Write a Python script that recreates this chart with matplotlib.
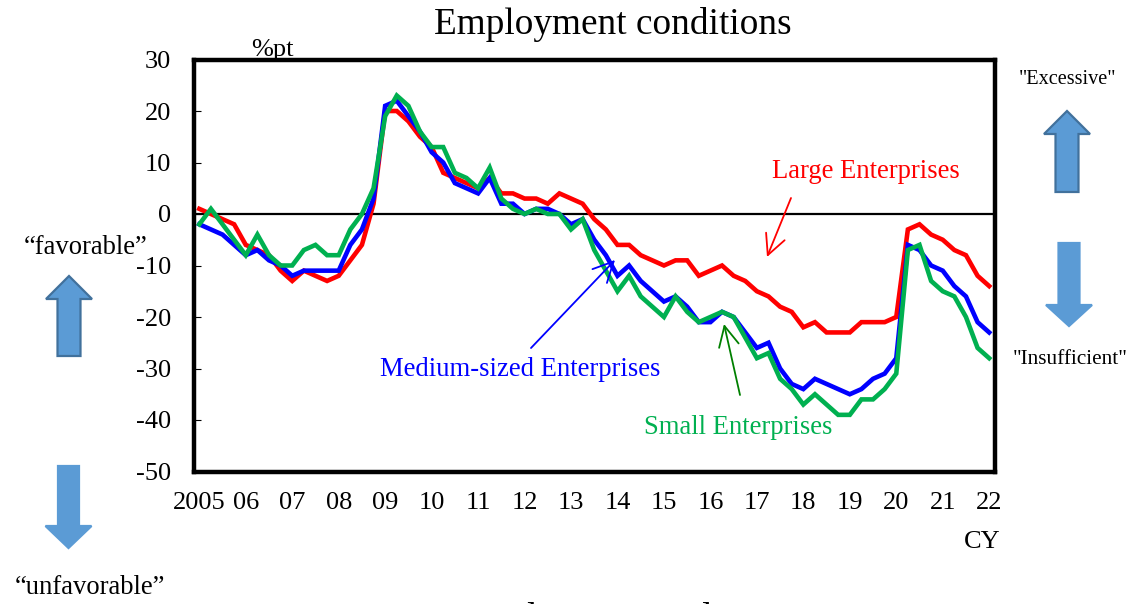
import matplotlib
matplotlib.use('Agg')
import matplotlib.pyplot as plt
from matplotlib.patches import Polygon

plt.rcParams['font.family'] = ['Liberation Serif', 'DejaVu Serif']
plt.rcParams['axes.unicode_minus'] = False

W = 1146
H = 604

# quarterly, 2005 Q1 - 2022 Q1
large = [1, 0, -1, -2, -6, -7, -8, -11, -13, -11, -12, -13, -12, -9, -6, 2, 20, 20, 18, 15, 13, 8, 7, 6, 5,
         7, 4, 4, 3, 3, 2, 4, 3, 2, -1, -3, -6, -6, -8, -9, -10, -9, -9, -12, -11, -10, -12, -13, -15, -16,
         -18, -19, -22, -21, -23, -23, -23, -21, -21, -21, -20, -3, -2, -4, -5, -7, -8, -12, -14]
medium = [-2, -3, -4, -6, -8, -7, -9, -10, -12, -11, -11, -11, -11, -6, -3, 3, 21, 22, 19, 16, 12, 10, 6, 5, 4,
          7, 2, 2, 0, 1, 1, 0, -2, -1, -5, -8, -12, -10, -13, -15, -17, -16, -18, -21, -21, -19, -20, -23, -26, -25,
          -30, -33, -34, -32, -33, -34, -35, -34, -32, -31, -28, -6, -7, -10, -11, -14, -16, -21, -23]
small = [-2, 1, -2, -5, -8, -4, -8, -10, -10, -7, -6, -8, -8, -3, 0, 5, 19, 23, 21, 16, 13, 13, 8, 7, 5,
         9, 3, 1, 0, 1, 0, 0, -3, -1, -7, -11, -15, -12, -16, -18, -20, -16, -19, -21, -20, -19, -20, -24, -28, -27,
         -32, -34, -37, -35, -37, -39, -39, -36, -36, -34, -31, -7, -6, -13, -15, -16, -20, -26, -28]

year_labels = ['2005', '06', '07', '08', '09', '10', '11', '12', '13', '14', '15', '16', '17', '18', '19', '20',
               '21', '22']
y_ticks = [30, 20, 10, 0, -10, -20, -30, -40, -50]

RED = '#FF0000'
BLUE = '#0000FF'
GREEN = '#00B050'

fig = plt.figure(figsize=(W / 100, H / 100), dpi=100)
ax = fig.add_axes([193.5 / W, 1 - 471.5 / H, 801.5 / W, 412 / H])

x = list(range(len(large)))
ax.axhline(0, color='k', lw=1.6, zorder=1)
ax.plot(x, large, color=RED, lw=3.3, solid_joinstyle='miter', zorder=2)
ax.plot(x, medium, color=BLUE, lw=3.3, solid_joinstyle='miter', zorder=3)
ax.plot(x, small, color=GREEN, lw=3.3, solid_joinstyle='miter', zorder=4)

ax.set_xlim(-0.5, len(large) - 0.5)
ax.set_ylim(-50, 30)
ax.set_yticks(y_ticks)
ax.set_xticks(x[::4])
ax.set_xticklabels(year_labels)
ax.tick_params(axis='y', direction='in', length=5, width=0.8, labelsize=19, pad=16)
ax.tick_params(axis='x', length=0, labelsize=19, pad=15)
for s in ax.spines.values():
    s.set_linewidth(3.2)

# overlay in pixel coordinates for the annotations around the plot
ov = fig.add_axes([0, 0, 1, 1], facecolor='none')
ov.set_xlim(0, W)
ov.set_ylim(H, 0)
ov.axis('off')


def block_arrow(cx, top, neck, bottom, half_head, half_shaft, up, face, edge):
    if up:
        pts = [(cx, top), (cx + half_head, neck), (cx + half_shaft, neck), (cx + half_shaft, bottom),
               (cx - half_shaft, bottom), (cx - half_shaft, neck), (cx - half_head, neck)]
    else:
        pts = [(cx, bottom), (cx + half_head, neck), (cx + half_shaft, neck), (cx + half_shaft, top),
               (cx - half_shaft, top), (cx - half_shaft, neck), (cx - half_head, neck)]
    ov.add_patch(Polygon(pts, closed=True, facecolor=face, edgecolor=edge, lw=1.6))


block_arrow(69, 276, 299, 356, 23, 11.5, True, '#5B9BD5', '#41719C')
block_arrow(68.5, 466, 526, 548, 23, 10.5, False, '#5B9BD5', '#5B9BD5')
block_arrow(1067, 111, 134, 192, 23, 11.5, True, '#5B9BD5', '#41719C')
block_arrow(1069, 243, 305, 326, 23, 10.5, False, '#5B9BD5', '#5B9BD5')


def thin_arrow(start, end, color):
    ov.annotate('', xy=end, xytext=start,
                arrowprops=dict(arrowstyle='->,head_length=1.45,head_width=0.72', color=color, lw=1.3,
                                mutation_scale=10, shrinkA=0, shrinkB=0))


thin_arrow((791, 198), (767, 257), RED)
thin_arrow((531, 348), (615, 260), BLUE)
thin_arrow((740, 395), (724, 324), '#008000')

ov.text(613, 25, 'Employment conditions', fontsize=26.8, ha='center', va='center', color='k')
ov.text(272, 50, '%pt', fontsize=19, ha='center', va='center', color='k')
ov.text(982, 542, 'CY', fontsize=19, ha='center', va='center', color='k')
ov.text(866, 172, 'Large Enterprises', fontsize=19.2, ha='center', va='center', color=RED)
ov.text(520, 370, 'Medium-sized Enterprises', fontsize=19.2, ha='center', va='center', color=BLUE)
ov.text(738, 427, 'Small Enterprises', fontsize=19.2, ha='center', va='center', color=GREEN)
ov.text(86, 248, '\u201cfavorable\u201d', fontsize=19.2, ha='center', va='center', color='k')
ov.text(90, 588, '\u201cunfavorable\u201d', fontsize=19.2, ha='center', va='center', color='k')
ov.text(1067, 80, '"Excessive"', fontsize=14.6, ha='center', va='center', color='k')
ov.text(1070, 360, '"Insufficient"', fontsize=15.3, ha='center', va='center', color='k')
# only the top of this next panel's title shows at the bottom edge in the reference
ov.text(630, 620, 'Production conditions', fontsize=26.8, ha='center', va='center', color='k', clip_on=True)

fig.savefig('out.png', dpi=100)
